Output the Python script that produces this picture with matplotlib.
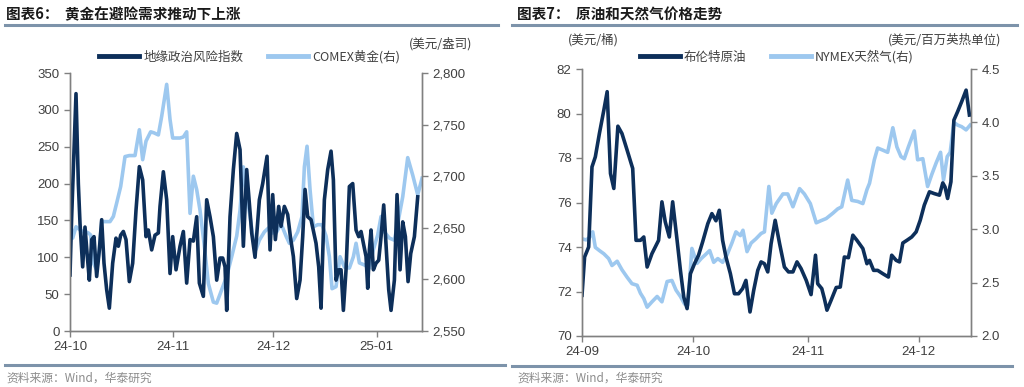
import matplotlib
matplotlib.use("Agg")
import matplotlib.pyplot as plt
import matplotlib.dates as mdates
from matplotlib.lines import Line2D
from matplotlib.ticker import FuncFormatter, MultipleLocator
import pandas as pd

# ---------------- data: left chart (days since 2024-10-01) ----------------
risk_start = "2024-10-01"
risk_days = [0, 0.5, 1.8, 2.5, 3, 3.8, 4.5, 5.2, 5.8, 6.5, 7.2, 8, 8.8, 9.5, 10.2, 11, 11.8, 12.8,
             13.8, 14.5, 15.2, 16, 16.8, 17.8, 18.8, 19.8, 20.8, 21.8, 22.8, 23.5, 24.5, 25.5, 26.5,
             27, 28, 29, 30, 30.8, 31.8, 33, 34, 35, 36, 37, 38, 38.8, 40, 41, 42, 43, 44, 45, 45.8,
             46.5, 47, 48, 49, 50, 51, 52, 53, 54.5, 55.5,
             56.8, 57.8, 59.1, 60, 60.8, 61.6, 62.6, 63.3, 64.3, 65.3, 66.1, 67, 68, 69, 69.8,
             70.5, 71.3, 72.3, 73.8, 74.6, 75.3, 76.3, 77.3, 78.3, 79, 79.8, 80.6, 81.3, 82, 82.8,
             83.8, 84.8, 85.8, 86.6, 87.3, 88, 88.8, 89.3, 89.8, 90.3, 91, 91.8, 92.6, 93.3, 94.1,
             95, 95.6, 96.3, 97.3, 98.1, 99, 99.8, 100.6, 101.4, 102.2, 103.3, 104.3]
risk_values = [76, 155, 322, 200, 146, 87, 141, 101, 69, 124, 128, 74, 110, 151, 92, 56, 31, 92,
               126, 115, 130, 135, 124, 67, 92, 164, 223, 205, 128, 137, 110, 130, 133,
               169, 216, 178, 78, 128, 83, 115, 135, 65, 124, 122, 155, 65, 47, 178, 155, 128, 69, 99, 99,
               87, 28, 155, 219, 268, 246, 115, 219, 133, 100,
               178, 200, 237, 110, 185, 124, 169, 142, 169, 158, 128, 101, 44, 69, 128,
               192, 155, 151, 119, 87, 31, 178, 219, 244, 205, 69, 83, 83, 28, 83,
               196, 200, 137, 128, 135, 119, 101, 58, 110, 137, 83, 92, 96, 128, 171,
               101, 56, 28, 69, 185, 83, 148, 128, 67, 105, 128, 182]

gold_days = [0, 0.8, 1.8, 3, 4, 4.8, 5.5, 6.2, 7, 8, 8.8, 9.5, 10.5, 12, 13, 14, 15.2, 16.5, 17.8,
             19.5, 20.8, 21.8, 22.8, 24.2, 25.2, 26.5, 27.5, 29, 30, 30.8, 33, 34, 35, 36, 37, 38, 39,
             40.2, 41.5, 43, 44, 45.5, 47, 48.5, 50, 51, 52, 52.8, 54, 55,
             55.8, 56.8, 58.3, 59.6, 60.8, 62, 63.3, 64.8, 65.8, 67, 68.3, 69.6, 70.3, 71.1, 72, 73,
             74.3, 75.6, 76.8, 77.8, 78.6, 79.8, 81, 82.3, 83.8, 85, 85.8, 86.8, 88.3, 89.8, 91, 92.3,
             93.3, 94.3, 95.8, 97.3, 98.3, 99.8, 101.3, 102.8, 104.3, 105.6]
gold_values = [2658, 2640, 2651, 2648, 2646, 2646, 2645, 2643, 2616, 2609, 2629, 2656, 2656, 2656,
               2661, 2674, 2690, 2719, 2720, 2720, 2745, 2716, 2734, 2743, 2742, 2740, 2758, 2789,
               2755, 2737, 2737, 2738, 2743, 2664, 2700, 2687, 2667, 2635, 2596, 2578, 2577, 2590,
               2603, 2622, 2642, 2667, 2709, 2687, 2661, 2638,
               2629, 2638, 2646, 2650, 2645, 2646, 2654, 2642, 2635, 2638, 2646, 2661, 2709, 2729,
               2687, 2651, 2653, 2653, 2642, 2622, 2591, 2593, 2622, 2612, 2611, 2622, 2635, 2616,
               2614, 2611, 2629, 2643, 2661, 2646, 2640, 2638, 2654, 2680, 2718, 2701, 2682, 2698]

left_xticks = ["2024-10-01", "2024-11-01", "2024-12-01", "2025-01-01"]
left_xlim = ["2024-10-01", "2025-01-14 14:00"]

# ---------------- data: right chart (days since 2024-09-01) ----------------
oil_start = "2024-09-01"
brent_days = [0, 0.7, 1.8, 2.7, 3.6, 4.7, 5.9, 6.8, 7.7, 8.6, 9.7, 10.8, 12.2, 13.7, 14.6, 15.8,
              16.7, 17.6, 18.9, 20.7, 21.6, 22.5, 23.6, 24.5, 25.7, 26.6, 27.5, 28.4, 29.3, 30.4,
              31.5, 32.6, 34.0, 35.1, 36.2, 37.1, 38.0, 38.9, 40.1, 41.2, 42.3, 43.4, 44.3, 45.4,
              46.4, 47.5, 48.4, 49.3, 50.2, 51.1, 52.2, 53.4, 54.7, 55.8, 57.0, 58.1, 59.2, 60.6,
              61.9, 63.1, 63.7, 64.8, 65.5, 66.2, 67.3, 68.7, 69.8, 70.9, 72.0, 73.2, 74.3, 75.9,
              77.0, 77.7, 78.8, 79.9, 81.3, 82.8, 83.7, 84.9, 85.8, 86.7, 87.8, 89.1, 90.3, 91.4,
              92.5, 93.9, 95.2, 96.6, 97.5, 98.1, 98.8, 99.7, 100.5, 101.5, 102.6, 103.8, 104.7]
brent_values = [71.83, 73.55, 74.0, 77.6, 78.05, 79.1, 80.15, 80.98, 77.3, 76.63, 79.43, 79.1, 78.35,
                77.53, 74.3, 74.3, 74.45, 73.1, 73.7, 74.3, 76.03, 75.13, 74.45, 76.03, 74.3, 72.95,
                71.75, 71.23, 72.8, 73.25, 73.63, 74.23, 75.05, 75.5, 75.18, 75.65, 74.3, 73.55, 72.8,
                71.9, 71.9, 72.13, 72.5, 71.08, 72.05, 72.95, 73.33, 73.25, 72.88, 74.15, 75.2, 74.15,
                73.1, 72.88, 72.88, 73.33, 73.03, 72.5, 71.86, 73.63, 72.35, 72.13, 71.68, 71.16,
                71.6, 72.18, 72.2, 73.55, 73.52, 74.53, 74.3, 73.93, 73.25, 73.4, 72.95, 72.95, 72.8,
                72.65, 73.63, 73.4, 73.33, 74.18, 74.3, 74.45, 74.68, 75.2, 75.88, 76.48, 76.4, 76.33,
                76.88, 76.7, 76.18, 76.93, 79.7, 80.08, 80.53, 81.05, 79.93]

gas_days = [0, 1.1, 2.0, 2.9, 3.6, 4.7, 5.9, 7.2, 8.1, 9.5, 10.8, 12.2, 13.5, 14.9, 15.8, 16.7,
            17.6, 18.9, 20.3, 21.6, 23.0, 24.3, 25.4, 26.6, 27.7, 28.6, 29.7, 31.1, 32.2, 33.3,
            34.5, 35.6, 36.7, 38.0, 39.2, 40.5, 41.6, 42.8, 43.5, 44.6, 45.7, 47.0, 48.4, 49.3,
            50.5, 51.3, 52.5, 54.3, 55.6, 57.0, 58.8, 60.1, 61.7, 63.3, 64.6, 66.0, 67.8, 69.1,
            70.2, 71.8, 72.9, 74.5, 75.9, 77.0, 77.7, 79.0, 79.9, 81.3, 82.6, 84.0, 85.1, 86.2,
            87.1, 88.2, 89.8, 90.7, 92.1, 93.4, 94.5, 95.7, 96.9, 97.7, 98.7, 99.5, 100.5, 101.5,
            102.6, 103.8, 104.9]
gas_values = [2.91, 2.90, 2.92, 2.975, 2.83, 2.80, 2.77, 2.725, 2.66, 2.70, 2.62, 2.55, 2.49, 2.475,
              2.40, 2.35, 2.27, 2.32, 2.37, 2.32, 2.51, 2.52, 2.43, 2.37, 2.30, 2.29, 2.82, 2.68,
              2.725, 2.76, 2.80, 2.69, 2.725, 2.69, 2.76, 2.87, 2.975, 2.94, 2.99, 2.79, 2.87, 2.91,
              2.96, 2.975, 3.40, 3.15, 3.24, 3.33, 3.33, 3.21, 3.38, 3.33, 3.24, 3.06, 3.08, 3.10,
              3.15, 3.19, 3.21, 3.46, 3.27, 3.26, 3.24, 3.37, 3.43, 3.65, 3.76, 3.74, 3.72, 3.95,
              3.77, 3.68, 3.66, 3.77, 3.92, 3.65, 3.66, 3.40, 3.51, 3.62, 3.72, 3.46, 3.68, 3.72,
              4.00, 3.975, 3.96, 3.93, 3.975]

right_xticks = ["2024-09-01", "2024-10-01", "2024-11-01", "2024-12-01"]
right_xlim = ["2024-09-01", "2024-12-15 03:00"]

# ---------------- styling ----------------
DARK = "#0d2f5a"
LIGHT = "#9dc8ef"
GRAY = "#404040"
SPINE = "#808080"
RULE = "#7d93aa"
CJK = ["Noto Sans CJK SC", "DejaVu Sans"]
LAT = ["Liberation Sans", "Noto Sans CJK SC"]

plt.rcParams["font.family"] = CJK


def to_dates(start, days):
    return pd.Timestamp(start) + pd.to_timedelta(days, unit="D")


fig = plt.figure(figsize=(10.24, 3.87), dpi=100)


def style_axes(ax, ax2):
    for a in (ax, ax2):
        a.spines["top"].set_visible(False)
        for s in ("left", "right", "bottom"):
            a.spines[s].set_color(SPINE)
            a.spines[s].set_linewidth(1.0)
        a.tick_params(colors=SPINE, labelcolor=GRAY, labelsize=9.5, length=4, width=1,
                      direction="out")
        for lab in a.get_xticklabels() + a.get_yticklabels():
            lab.set_family(LAT)


def rule(y, x0, x1):
    fig.add_artist(Line2D([x0 / 1024, x1 / 1024], [1 - y / 387, 1 - y / 387],
                          color=RULE, lw=2.2, transform=fig.transFigure))


# ---------------- left chart ----------------
axL = fig.add_axes([70 / 1024, 1 - 331 / 387, 352 / 1024, 258 / 387])
axL2 = axL.twinx()
axL2.plot(to_dates(risk_start, gold_days), gold_values, color=LIGHT, lw=2.6, zorder=1)
axL.plot(to_dates(risk_start, risk_days), risk_values, color=DARK, lw=2.6, zorder=2)
axL.set_zorder(axL2.get_zorder() + 1)
axL.patch.set_visible(False)
axL.set_ylim(0, 350)
axL.yaxis.set_major_locator(MultipleLocator(50))
axL2.set_ylim(2550, 2800)
axL2.yaxis.set_major_locator(MultipleLocator(50))
axL2.yaxis.set_major_formatter(FuncFormatter(lambda v, p: f"{v:,.0f}"))
axL.set_xlim(pd.Timestamp(left_xlim[0]), pd.Timestamp(left_xlim[1]))
axL.set_xticks([pd.Timestamp(d) for d in left_xticks])
axL.xaxis.set_major_formatter(mdates.DateFormatter("%y-%m"))
style_axes(axL, axL2)

hL = [Line2D([], [], color=DARK, lw=3.5), Line2D([], [], color=LIGHT, lw=3.5)]
axL.legend(hL, ["地缘政治风险指数", "COMEX黄金(右)"], loc="center", ncol=2,
           bbox_to_anchor=(0.51, 1.063), frameon=False, fontsize=9, handlelength=3.2,
           columnspacing=2.0, handletextpad=0.3, labelcolor=GRAY, borderaxespad=0)
fig.text(441 / 1024, 1 - 44 / 387, "(美元/盎司)", ha="center", va="center", fontsize=9, color=GRAY)

fig.text(6 / 1024, 1 - 14 / 387, "图表6：  黄金在避险需求推动下上涨", ha="left", va="center",
         fontsize=10.5, fontweight="bold", color="#1a1a1a")
rule(25, 5, 498)
rule(365, 5, 505)
fig.text(6 / 1024, 1 - 378 / 387, "资料来源：Wind，华泰研究", ha="left", va="center",
         fontsize=8.5, color="#8c8c8c")

# ---------------- right chart ----------------
axR = fig.add_axes([582 / 1024, 1 - 336 / 387, 389 / 1024, 267 / 387])
axR2 = axR.twinx()
axR2.plot(to_dates(oil_start, gas_days), gas_values, color=LIGHT, lw=2.6, zorder=1)
axR.plot(to_dates(oil_start, brent_days), brent_values, color=DARK, lw=2.6, zorder=2)
axR.set_zorder(axR2.get_zorder() + 1)
axR.patch.set_visible(False)
axR.set_ylim(70, 82)
axR.yaxis.set_major_locator(MultipleLocator(2))
axR2.set_ylim(2.0, 4.5)
axR2.yaxis.set_major_locator(MultipleLocator(0.5))
axR2.yaxis.set_major_formatter(FuncFormatter(lambda v, p: f"{v:.1f}"))
axR.set_xlim(pd.Timestamp(right_xlim[0]), pd.Timestamp(right_xlim[1]))
axR.set_xticks([pd.Timestamp(d) for d in right_xticks])
axR.xaxis.set_major_formatter(mdates.DateFormatter("%y-%m"))
style_axes(axR, axR2)

hR = [Line2D([], [], color=DARK, lw=3.5), Line2D([], [], color=LIGHT, lw=3.5)]
axR.legend(hR, ["布伦特原油", "NYMEX天然气(右)"], loc="center", ncol=2,
           bbox_to_anchor=(0.50, 1.045), frameon=False, fontsize=9, handlelength=3.2,
           columnspacing=2.0, handletextpad=0.3, labelcolor=GRAY, borderaxespad=0)
fig.text(593 / 1024, 1 - 40 / 387, "(美元/桶)", ha="center", va="center", fontsize=9, color=GRAY)
fig.text(945 / 1024, 1 - 40 / 387, "(美元/百万英热单位)", ha="center", va="center", fontsize=9,
         color=GRAY)

fig.text(517 / 1024, 1 - 14 / 387, "图表7：  原油和天然气价格走势", ha="left", va="center",
         fontsize=10.5, fontweight="bold", color="#1a1a1a")
rule(25, 512, 1017)
rule(366, 512, 1012)
fig.text(517 / 1024, 1 - 378 / 387, "资料来源：Wind，华泰研究", ha="left", va="center",
         fontsize=8.5, color="#8c8c8c")

fig.savefig("out.png", dpi=100)
